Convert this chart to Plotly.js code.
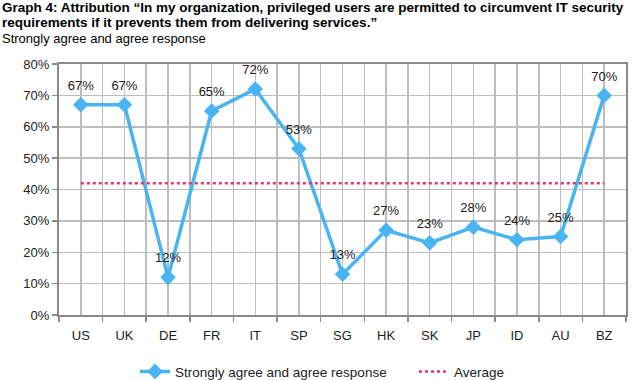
<!DOCTYPE html>
<html><head><meta charset="utf-8">
<script src="https://cdn.plot.ly/plotly-3.0.1.min.js"></script>
<style>body{margin:0;padding:0;background:#fff}#chart{width:633px;height:380px}</style>
</head><body><div id="chart"></div>
<script>
const categories = ["US","UK","DE","FR","IT","SP","SG","HK","SK","JP","ID","AU","BZ"];
const responseValues = [67,67,12,65,72,53,13,27,23,28,24,25,70];
const averageValues = [42,42,42,42,42,42,42,42,42,42,42,42,42];
const yTickVals = [0,10,20,30,40,50,60,70,80];
const titleLines = [
  '<b>Graph 4: Attribution \u201cIn my organization, privileged users are permitted to circumvent IT security</b>',
  '<b>requirements if it prevents them from delivering services.\u201d</b>',
  'Strongly agree and agree response'
];

const xs = categories.map((c,i)=>i);
const font = "Liberation Sans, Arial, sans-serif";
const plotH = 380 - 64 - 65;
const plotW = 633 - 59 - 7;

const traces = [
  {
    x: xs, y: responseValues, type: 'scatter', mode: 'lines+markers',
    name: 'Strongly agree and agree response',
    line: {color: '#4ab4f2', width: 3.5},
    marker: {symbol: 'diamond', size: 12, color: '#4ab4f2'},
    legend: 'legend'
  },
  {
    x: xs, y: responseValues, type: 'scatter', mode: 'markers+text',
    name: 'labels', showlegend: false,
    marker: {size: 17, opacity: 0, color: '#4ab4f2'},
    text: responseValues.map(v => v + '%'),
    textposition: 'top center',
    textfont: {family: font, size: 13, color: '#222'},
    cliponaxis: false
  },
  {
    x: xs, y: averageValues, type: 'scatter', mode: 'lines',
    name: 'Average',
    line: {color: '#dc3a68', width: 2.5, dash: 'dot'},
    legend: 'legend2'
  }
];

const titleY = [8, 23, 38];
const annotations = titleLines.map((t, i) => ({
  text: t, xref: 'paper', yref: 'paper',
  x: -0.104, xanchor: 'left',
  y: 1 + (64 - titleY[i]) / plotH, yanchor: 'middle',
  align: 'left', showarrow: false,
  font: {family: font, size: i < 2 ? 13.5 : 13, color: '#000'}
}));

const legendBase = {
  orientation: 'h', xanchor: 'left',
  yref: 'container', y: 0.022, yanchor: 'middle',
  font: {family: font, size: 13.5, color: '#222'},
  bgcolor: 'rgba(0,0,0,0)'
};

const layout = {
  width: 633, height: 380,
  margin: {l: 59, r: 7, t: 64, b: 65},
  paper_bgcolor: '#fff', plot_bgcolor: '#fff',
  font: {family: font, size: 12.5, color: '#222'},
  annotations: annotations,
  xaxis: {
    range: [-0.5, 12.5],
    tickvals: xs, ticktext: categories,
    showgrid: true, gridcolor: '#bdbdbd', gridwidth: 1.5,
    ticks: '', zeroline: false,
    showline: true, linecolor: '#8a8a8a', linewidth: 2, mirror: true,
    minor: {tick0: 0.5, dtick: 1, showgrid: true, gridcolor: '#bdbdbd', gridwidth: 1.5, ticks: 'outside', ticklen: 5, tickcolor: '#8a8a8a', tickwidth: 1.5},
    tickfont: {family: font, size: 13, color: '#222'},
    ticklabelstandoff: 7,
    fixedrange: true
  },
  yaxis: {
    range: [0, 80],
    tickvals: yTickVals, ticktext: yTickVals.map(v => v + '%'),
    showgrid: true, gridcolor: '#bdbdbd', gridwidth: 1.5,
    ticks: 'outside', ticklen: 5, tickcolor: '#8a8a8a', tickwidth: 1.5,
    showline: true, linecolor: '#8a8a8a', linewidth: 2, mirror: true,
    zeroline: false,
    tickfont: {family: font, size: 13, color: '#222'},
    fixedrange: true
  },
  legend: Object.assign({}, legendBase, {x: (135 - 59) / plotW}),
  legend2: Object.assign({}, legendBase, {x: (414 - 59) / plotW}),
  showlegend: true
};

Plotly.newPlot('chart', traces, layout, {displayModeBar: false, staticPlot: true});
</script>
</body></html>
